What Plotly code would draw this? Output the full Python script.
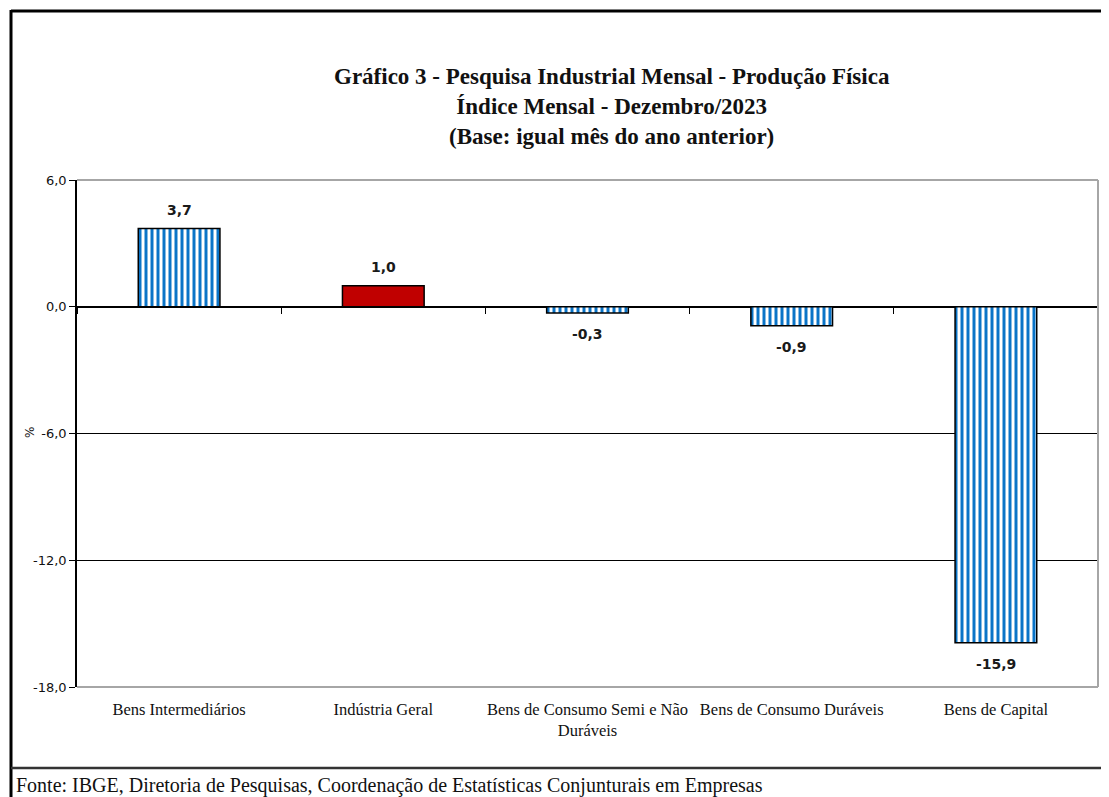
import plotly.graph_objects as go

# Produção física - índice mensal, dez/2023 (base: igual mês do ano anterior)
categorias = [
    "Bens Intermediários",
    "Indústria Geral",
    "Bens de Consumo Semi e Não<br>Duráveis",
    "Bens de Consumo Duráveis",
    "Bens de Capital",
]
variacao = [3.7, 1.0, -0.3, -0.9, -15.9]
destaque = [False, True, False, False, False]

y_ticks = [6, 0, -6, -12, -18]
y_ticktext = [f"{v:.1f}".replace(".", ",") for v in y_ticks]

titulo = [
    "Gráfico 3 - Pesquisa Industrial Mensal - Produção Física",
    "Índice Mensal - Dezembro/2023",
    "(Base: igual mês do ano anterior)",
]
fonte = "Fonte: IBGE, Diretoria de Pesquisas, Coordenação de Estatísticas Conjunturais em Empresas"

AZUL = "#0a74c8"
VERMELHO = "#C00000"

# a página tem 8px de margem no body, então desconto isso de tudo
OFF = 8
W, H = 1109 - OFF, 797 - OFF
L, R, T, B = 69, 11, 172, 110
pw, ph = W - L - R, H - T - B


def px_x(px):
    return (px - OFF - L) / pw


def px_y(py):
    return (H - B - (py - OFF)) / ph


cat_listr = [c for c, d in zip(categorias, destaque) if not d]
val_listr = [v for v, d in zip(variacao, destaque) if not d]
cat_dest = [c for c, d in zip(categorias, destaque) if d]
val_dest = [v for v, d in zip(variacao, destaque) if d]

fig = go.Figure()
# barras listradas (azul/branco)
fig.add_trace(go.Bar(
    x=cat_listr, y=val_listr,
    marker=dict(
        color=AZUL,
        line=dict(color="black", width=1.5),
        pattern=dict(shape="|", fillmode="replace", bgcolor="white",
                     fgcolor=AZUL, size=6, solidity=0.5),
    ),
    showlegend=False,
))
# indústria geral em vermelho
fig.add_trace(go.Bar(
    x=cat_dest, y=val_dest,
    marker=dict(color=VERMELHO, line=dict(color="black", width=1.5)),
    showlegend=False,
))
# eixo auxiliar só para as marcas de divisão das categorias sobre a linha do zero
fig.add_trace(go.Scatter(
    x=categorias, y=variacao, xaxis="x2", mode="none",
    showlegend=False, hoverinfo="skip",
))

rotulos = []
for cat, v in zip(categorias, variacao):
    rotulos.append(dict(
        x=cat, y=v, xref="x", yref="y",
        text=f"{v:.1f}".replace(".", ","), showarrow=False,
        yanchor="bottom" if v >= 0 else "top",
        yshift=9 if v >= 0 else -11,
        font=dict(family="DejaVu Sans", size=14, color="#1a1a1a", weight="bold"),
    ))

fig.update_layout(
    width=W, height=H,
    margin=dict(l=L, r=R, t=T, b=B),
    paper_bgcolor="white", plot_bgcolor="white",
    barmode="overlay",
    bargap=0.6,
    xaxis=dict(
        type="category", range=[-0.5, 4.5],
        categoryorder="array", categoryarray=categorias,
        showline=False, showgrid=False, ticks="",
        tickfont=dict(family="Liberation Serif", size=16.5, color="#111"),
        ticklabelstandoff=10,
    ),
    xaxis2=dict(
        type="category", range=[-0.5, 4.5], overlaying="x",
        categoryorder="array", categoryarray=categorias,
        anchor="free", position=(0 - y_ticks[-1]) / (y_ticks[0] - y_ticks[-1]),
        tickson="boundaries", ticks="outside", ticklen=6, tickcolor="black",
        showticklabels=False, showline=False, showgrid=False,
    ),
    yaxis=dict(
        range=[y_ticks[-1], y_ticks[0]], tickvals=y_ticks, ticktext=y_ticktext,
        showgrid=True, gridcolor="black", gridwidth=1,
        zeroline=True, zerolinecolor="black", zerolinewidth=1.5,
        showline=True, linecolor="black", linewidth=1.5,
        ticks="outside", ticklen=6, tickcolor="black",
        tickfont=dict(family="DejaVu Sans", size=13, color="#111"),
    ),
    shapes=[
        # moldura cinza da área de plotagem
        dict(type="line", xref="paper", yref="paper", x0=0, x1=1, y0=1, y1=1,
             line=dict(color="#a6a6a6", width=2), layer="above"),
        dict(type="line", xref="paper", yref="paper", x0=1, x1=1, y0=0, y1=1,
             line=dict(color="#a6a6a6", width=2), layer="above"),
        dict(type="line", xref="paper", yref="paper", x0=0, x1=1, y0=0, y1=0,
             line=dict(color="#a6a6a6", width=2), layer="above"),
        # moldura externa
        dict(type="line", xref="paper", yref="paper",
             x0=px_x(11), x1=px_x(1112), y0=px_y(11), y1=px_y(11),
             line=dict(color="black", width=3)),
        dict(type="line", xref="paper", yref="paper",
             x0=px_x(11), x1=px_x(11), y0=px_y(10), y1=px_y(800),
             line=dict(color="black", width=3)),
        dict(type="line", xref="paper", yref="paper",
             x0=px_x(11), x1=px_x(1112), y0=px_y(768), y1=px_y(768),
             line=dict(color="#333", width=2.5)),
    ],
    annotations=rotulos + [
        dict(text="<br>".join(titulo), xref="paper", yref="paper",
             x=px_x(612), y=px_y(107), xanchor="center", yanchor="middle",
             showarrow=False,
             font=dict(family="Liberation Serif", size=23, color="#111", weight="bold")),
        dict(text="%", xref="paper", yref="paper", textangle=-90,
             x=px_x(30), y=px_y(433), xanchor="center", yanchor="middle",
             showarrow=False,
             font=dict(family="DejaVu Sans", size=12, color="#111")),
        dict(text=fonte, xref="paper", yref="paper",
             x=px_x(14), y=px_y(786), xanchor="left", yanchor="middle",
             showarrow=False,
             font=dict(family="Liberation Serif", size=20, color="#111")),
    ],
)

fig.write_html("out.html")
